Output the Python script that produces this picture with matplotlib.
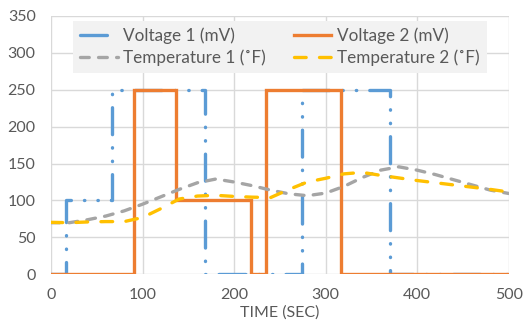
import matplotlib
matplotlib.use("Agg")
import matplotlib.pyplot as plt

plt.rcParams['font.family'] = ['Lato', 'DejaVu Sans']
plt.rcParams['lines.scale_dashes'] = False

# Voltage channels: level changes (time in s, value held until next change)
v1_time = [0, 16, 67, 168, 274, 370, 500]
v1_mv = [0, 100, 250, 0, 250, 0, 0]
v2_time = [0, 91, 137, 218, 235, 317, 500]
v2_mv = [0, 250, 100, 0, 250, 0, 0]

# Temperature channels sampled every 20 s
temp_time = [0, 20, 40, 60, 80, 100, 120, 140, 160, 180, 200, 220, 240,
             260, 280, 300, 320, 340, 360, 380, 400, 420, 440, 460, 480, 500]
temp1_f = [70, 70, 74, 79, 86, 95, 105, 115, 124, 129, 125, 120, 114,
           109, 106.5, 110, 119, 131, 141, 145.5, 141, 135, 128, 121, 114, 109.5]
temp2_f = [70.5, 70, 71, 71.5, 71.5, 77, 89, 102, 106, 107, 105.5, 104.5, 104,
           115, 125, 130, 136, 138, 134, 130.5, 127, 124, 121, 118, 115, 111.5]

x_ticks = [0, 100, 200, 300, 400, 500]
y_ticks = [0, 50, 100, 150, 200, 250, 300, 350]

BLUE = '#5B9BD5'
ORANGE = '#ED7D31'
GRAY = '#A5A5A5'
GOLD = '#FFC000'
TXT = '#595959'
GRID = '#D9D9D9'

fig = plt.figure(figsize=(5.31, 3.32), dpi=100)
ax = fig.add_axes([0.096, 0.1732, 0.862, 0.7801])

lw = 2.4
ax.plot(v1_time, v1_mv, drawstyle='steps-post', color=BLUE, lw=lw,
        dashes=(19.4, 9.4, 0.3, 9.4, 0.3, 9.4), dash_capstyle='round',
        label='Voltage 1 (mV)', zorder=3)
ax.plot(v2_time, v2_mv, drawstyle='steps-post', color=ORANGE, lw=lw,
        solid_joinstyle='miter', label='Voltage 2 (mV)', zorder=4)
ax.plot(temp_time, temp1_f, color=GRAY, lw=lw, dashes=(6.3, 6.7),
        dash_capstyle='round', label='Temperature 1 (˚F)', zorder=5)
ax.plot(temp_time, temp2_f, color=GOLD, lw=lw, dashes=(8.4, 9.6),
        dash_capstyle='round', label='Temperature 2 (˚F)', zorder=6)

ax.set_xlim(0, 500)
ax.set_ylim(0, 350)
ax.set_xticks(x_ticks)
ax.set_yticks(y_ticks)
ax.grid(True, color=GRID, lw=1)
ax.set_axisbelow(True)
for s in ax.spines.values():
    s.set_visible(False)
ax.tick_params(length=0, labelsize=11.5, labelcolor=TXT)
ax.tick_params(axis='y', pad=11)
ax.tick_params(axis='x', pad=10)
ax.set_xlabel('TIME (SEC)', fontsize=11.5, color=TXT, labelpad=2)

handles, labels = ax.get_legend_handles_labels()
order = [0, 2, 1, 3]
leg = ax.legend([handles[i] for i in order], [labels[i] for i in order],
                ncol=2, loc='upper center', bbox_to_anchor=(0.5, 0.98),
                fontsize=12.3, frameon=True, fancybox=False,
                handlelength=2.2, handletextpad=0.35, columnspacing=1.6,
                borderpad=0.4, labelspacing=0.3, borderaxespad=0)
leg.get_frame().set_facecolor('#F2F2F2')
leg.get_frame().set_edgecolor('none')
leg.get_frame().set_alpha(1)
for t in leg.get_texts():
    t.set_color(TXT)

fig.savefig('out.png', dpi=100)
